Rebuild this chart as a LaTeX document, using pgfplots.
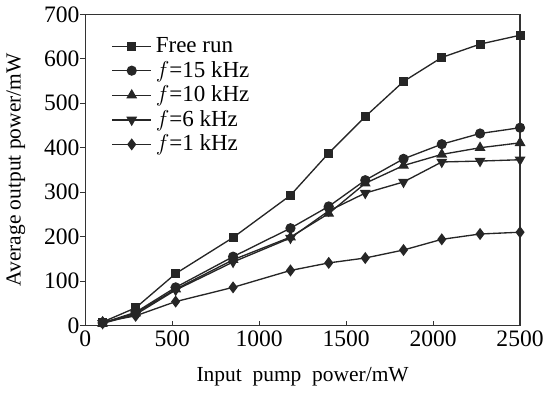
\documentclass[border=0pt]{standalone}
\usepackage{pgfplots}
\pgfplotsset{compat=1.18}
\usepackage{fontspec}
\setmainfont{Liberation Serif}
\begin{document}
\begin{tikzpicture}
\begin{axis}[
  width=227pt, height=162.5pt, scale only axis,
  xmin=0, xmax=2500, ymin=0, ymax=700,
  xtick={0,500,1000,1500,2000,2500},
  ytick={0,100,200,300,400,500,600,700},
  xtick pos=bottom, ytick pos=left,
  xtick align=inside, ytick align=outside,
  major tick length=2.5pt,
  tick style={black!80, line width=0.5pt},
  axis line style={black!80, line width=0.6pt},
  /pgf/number format/assume math mode=true,
  /pgf/number format/1000 sep={},
  ticklabel style={font=\fontsize{12.3}{13}\selectfont},
  yticklabel style={xshift=3pt},
  xticklabel style={yshift=1pt},
  xlabel={Input\ \ pump\ \ power/mW},
  ylabel={Average output power/mW},
  label style={font=\fontsize{11.2}{12}\selectfont},
  xlabel style={yshift=-4pt},
  ylabel style={yshift=3pt},
  legend style={draw=none, fill=none, at={(0.055,0.945)}, anchor=north west,
    font=\fontsize{12}{13}\selectfont, row sep=-1pt, inner sep=1pt},
  legend cell align=left,
  legend image code/.code={\draw[mark repeat=2,mark phase=2] plot coordinates {(0cm,0cm) (0.36cm,0cm) (0.72cm,0cm)};},
  every axis plot/.append style={line width=0.7pt, black!85, mark options={solid, fill=black!85}},
]
\addplot[mark=square*, mark size=2pt] coordinates {(100,8) (290,40) (520,117) (850,198) (1180,293) (1400,388) (1610,470) (1830,549) (2050,603) (2270,633) (2500,653)};
\addlegendentry{Free run}
\addplot[mark=*, mark size=2.3pt] coordinates {(100,6) (290,30) (520,86) (850,155) (1180,219) (1400,268) (1610,327) (1830,375) (2050,408) (2270,432) (2500,445)};
\addlegendentry{$f$=15 kHz}
\addplot[mark=triangle*, mark size=2.6pt] coordinates {(100,5) (290,28) (520,82) (850,148) (1180,199) (1400,252) (1610,320) (1830,360) (2050,385) (2270,400) (2500,411)};
\addlegendentry{$f$=10 kHz}
\addplot[mark=triangle*, mark size=2.6pt, mark options={rotate=180}] coordinates {(100,5) (290,25) (520,80) (850,143) (1180,197) (1400,258) (1610,298) (1830,323) (2050,368) (2270,370) (2500,373)};
\addlegendentry{$f$=6 kHz}
\addplot[mark=diamond*, mark size=2.6pt] coordinates {(100,8) (290,22) (520,54) (850,86) (1180,124) (1400,141) (1610,152) (1830,170) (2050,194) (2270,206) (2500,210)};
\addlegendentry{$f$=1 kHz}
\end{axis}
\end{tikzpicture}
\end{document}
